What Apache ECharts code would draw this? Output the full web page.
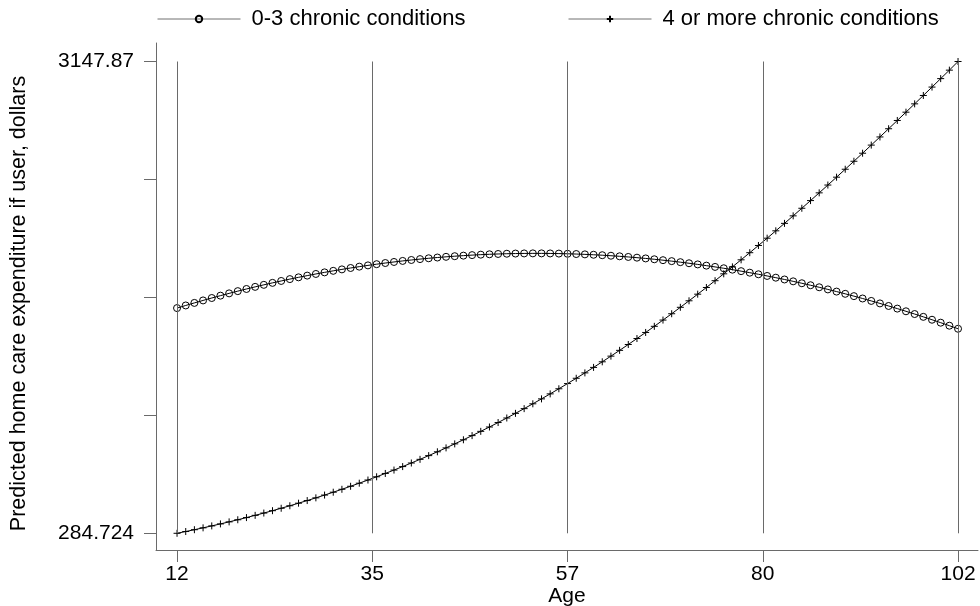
<!DOCTYPE html>
<html>
<head>
<meta charset="utf-8">
<script src="https://cdn.jsdelivr.net/npm/echarts@6/dist/echarts.min.js"></script>
<style>
html,body{margin:0;padding:0;background:#fff;}
#chart{width:980px;height:606px;}
</style>
</head>
<body>
<div id="chart"></div>
<script>
// ---- data ----
const ages = [12,13,14,15,16,17,18,19,20,21,22,23,24,25,26,27,28,29,30,31,32,33,34,35,36,37,38,39,40,41,42,43,44,45,46,47,48,49,50,51,52,53,54,55,56,57,58,59,60,61,62,63,64,65,66,67,68,69,70,71,72,73,74,75,76,77,78,79,80,81,82,83,84,85,86,87,88,89,90,91,92,93,94,95,96,97,98,99,100,101,102];

const low = [1651.5,1667.4,1682.8,1697.9,1712.6,1726.9,1740.8,1754.3,1767.4,1780.2,1792.5,1804.5,1816.1,1827.3,1838.1,1848.5,1858.5,1868.2,1877.5,1886.3,1894.8,1902.9,1910.6,1917.9,1924.9,1931.4,1937.6,1943.3,1948.7,1953.7,1958.3,1962.6,1966.4,1969.8,1972.9,1975.6,1977.9,1979.8,1981.3,1982.4,1983.1,1983.5,1983.4,1983.0,1982.2,1981.0,1979.4,1977.4,1975.1,1972.3,1969.2,1965.7,1961.8,1957.4,1952.8,1947.7,1942.2,1936.4,1930.1,1923.5,1916.5,1909.1,1901.3,1893.1,1884.6,1875.6,1866.3,1856.6,1846.5,1836.0,1825.1,1813.8,1802.1,1790.1,1777.7,1764.8,1751.6,1738.0,1724.0,1709.7,1694.9,1679.8,1664.2,1648.3,1632.0,1615.3,1598.2,1580.7,1562.9,1544.6,1526.0];

const high = [284.724,295.42,306.45,317.82,329.53,341.60,354.03,366.83,380.00,393.56,407.51,421.85,436.60,451.76,467.34,483.35,499.79,516.67,534.00,551.78,570.03,588.74,607.93,627.60,647.76,668.41,689.56,711.22,733.39,756.08,779.29,803.03,827.31,852.13,877.49,903.40,929.86,956.87,984.44,1012.58,1041.28,1070.55,1100.39,1130.81,1161.80,1193.34,1225.49,1258.22,1291.52,1325.41,1359.87,1394.91,1430.52,1466.71,1503.47,1540.80,1578.69,1617.14,1656.15,1695.71,1735.80,1776.45,1817.64,1859.36,1901.60,1944.36,1987.62,2031.38,2075.63,2120.36,2165.56,2211.21,2257.31,2303.84,2350.79,2398.15,2445.90,2494.04,2542.54,2591.39,2640.58,2690.08,2739.88,2789.97,2840.32,2890.92,2941.75,2992.79,3044.01,3095.40,3147.87];

const seriesNames = ['0-3 chronic conditions', '4 or more chronic conditions'];

const xTickValues = [12, 34.5, 57, 79.5, 102];
const xTickLabels = ['12', '35', '57', '80', '102'];
const yTickValues = [284.724, 1000.511, 1716.297, 2432.084, 3147.87];
const yTickLabels = ['284.724', '', '', '', '3147.87'];

// ---- chart ----
const FONT = "'Liberation Sans', Arial, Helvetica, sans-serif";
const AX = '#6a6a6a';
const plusPath = 'path://M5,0L5,10M0,5L10,5';

function nearestLabel(vals, labels, v) {
  let best = 0, bd = Infinity;
  vals.forEach((t, i) => { const d = Math.abs(t - v); if (d < bd) { bd = d; best = i; } });
  return labels[best];
}

const chart = echarts.init(document.getElementById('chart'), null, {renderer: 'canvas'});

const gridLines = xTickValues.map(x => [
  {coord: [x, yTickValues[0]]},
  {coord: [x, yTickValues[yTickValues.length - 1]]}
]);

const legendBase = {
  top: 8, itemWidth: 83, itemHeight: 8, padding: 0, selectedMode: false,
  lineStyle: {color: '#707070', width: 1},
  textStyle: {fontSize: 22, color: '#000', fontFamily: FONT, padding: [0, 0, 0, 6]}
};

chart.setOption({
  animation: false,
  backgroundColor: '#fff',
  legend: [
    Object.assign({}, legendBase, {data: [seriesNames[0]], left: 157}),
    Object.assign({}, legendBase, {data: [seriesNames[1]], left: 568})
  ],
  grid: {left: 156, right: 2, top: 43, bottom: 56, outerBoundsMode: 'none'},
  xAxis: {
    type: 'value', min: 9.575, max: 104.3,
    name: 'Age', nameLocation: 'middle', nameGap: 36, nameMoveOverlap: false,
    nameTextStyle: {fontSize: 21, color: '#000', fontFamily: FONT},
    axisLine: {show: true, lineStyle: {color: AX, width: 1}},
    axisTick: {show: true, customValues: xTickValues, length: 12, lineStyle: {color: AX, width: 1}},
    axisLabel: {customValues: xTickValues, fontSize: 21, color: '#000', fontFamily: FONT, margin: 14,
      formatter: v => nearestLabel(xTickValues, xTickLabels, v)},
    splitLine: {show: false}
  },
  yAxis: {
    type: 'value', min: 183.3, max: 3260.2,
    name: 'Predicted home care expenditure if user, dollars', nameLocation: 'middle', nameGap: 126, nameRotate: 90,
    nameMoveOverlap: false,
    nameTextStyle: {fontSize: 21.5, color: '#000', fontFamily: FONT, padding: [0, 14, 0, 0]},
    axisLine: {show: true, lineStyle: {color: AX, width: 1}},
    axisTick: {show: true, customValues: yTickValues, length: 12, lineStyle: {color: AX, width: 1}},
    axisLabel: {customValues: [yTickValues[0], yTickValues[4]], fontSize: 21, color: '#000', fontFamily: FONT, margin: 22,
      formatter: v => nearestLabel(yTickValues, yTickLabels, v)},
    splitLine: {show: false}
  },
  series: [
    {
      type: 'line', name: 'grid', data: [], z: 1, silent: true,
      markLine: {silent: true, symbol: ['none', 'none'], label: {show: false},
        lineStyle: {color: AX, width: 1, type: 'solid'}, emphasis: {disabled: true}, data: gridLines}
    },
    {
      type: 'line', name: seriesNames[0], z: 3,
      data: ages.map((a, i) => [a, low[i]]),
      symbol: 'circle', symbolSize: 7, showAllSymbol: true,
      lineStyle: {color: '#000', width: 1},
      itemStyle: {color: 'rgba(255,255,255,0)', borderColor: '#000', borderWidth: 1},
      emphasis: {disabled: true}
    },
    {
      type: 'line', name: seriesNames[1], z: 3,
      data: ages.map((a, i) => [a, high[i]]),
      symbol: plusPath, symbolSize: 7, showAllSymbol: true,
      lineStyle: {color: '#000', width: 1},
      itemStyle: {color: 'rgba(0,0,0,0)', borderColor: '#000', borderWidth: 1},
      emphasis: {disabled: true}
    }
  ]
});
</script>
</body>
</html>
